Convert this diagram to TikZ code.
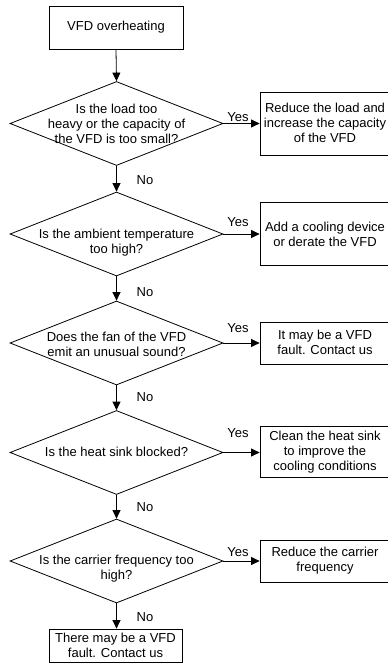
\documentclass[tikz,border=0pt]{standalone}
\usepackage{fontspec}
\setmainfont{Liberation Sans}
\usetikzlibrary{shapes.geometric,arrows.meta}
\begin{document}
\begin{tikzpicture}[x=1pt,y=-1pt,
  every node/.style={font=\fontsize{13}{15}\selectfont},
  box/.style={draw, line width=0.8pt, inner sep=0pt, align=center},
  dia/.style={draw, shape=diamond, line width=0.8pt, inner sep=0pt, minimum width=213, minimum height=84},
  txt/.style={inner sep=0pt, align=center},
  lbl/.style={inner sep=0pt},
  arr/.style={line width=0.8pt, -{Triangle[length=8.5pt,width=8pt]}}]
\useasboundingbox (0,0) rectangle (388,672);
% start
\node[box, minimum width=134, minimum height=43] (top) at (116,27.5) {VFD overheating};
% diamonds
\node[dia] (d1) at (116.5,123.5) {};
\node[dia] (d2) at (116.5,234) {};
\node[dia] (d3) at (116.5,343) {};
\node[dia] (d4) at (116.5,452.5) {};
\node[dia] (d5) at (116.5,561) {};
% question texts
\node[txt] (q1) at (116.5,123.5) {Is the load too\\heavy or the capacity of\\the VFD is too small?};
\node[txt] (q2) at (116.5,243) {Is the ambient temperature\\too high?};
\node[txt] (q3) at (116.5,344) {Does the fan of the VFD\\emit an unusual sound?};
\node[txt] (q4) at (116.5,452) {Is the heat sink blocked?};
\node[txt] (q5) at (116.5,569) {Is the carrier frequency too\\high?};
% action boxes (right edges run past the picture border, as in the reference)
\node[box, minimum width=134, minimum height=63] (b1) at (327,123.5) {};
\node[txt] (t1) at (325,123) {Reduce the load and\\increase the capacity\\of the VFD};
\node[box, minimum width=134, minimum height=63] (b2) at (327,233.5) {};
\node[txt] (t2) at (325,234.5) {Add a cooling device\\or derate the VFD};
\node[box, minimum width=134, minimum height=42] (b3) at (327,343) {};
\node[txt] (t3) at (325,342.5) {It may be a VFD\\fault. Contact us};
\node[box, minimum width=134, minimum height=51] (b4) at (327,451.5) {};
\node[txt] (t4) at (325,452) {Clean the heat sink\\to improve the\\cooling conditions};
\node[box, minimum width=134, minimum height=42] (b5) at (327,561) {};
\node[txt] (t5) at (325,560.5) {Reduce the carrier\\frequency};
% final
\node[box, minimum width=133, minimum height=33] (fin) at (115.5,645.5) {There may be a VFD\\fault. Contact us};
% vertical arrows
\draw[arr] (top.south) -- (d1.north);
\draw[arr] (d1.south) -- (d2.north);
\draw[arr] (d2.south) -- (d3.north);
\draw[arr] (d3.south) -- (d4.north);
\draw[arr] (d4.south) -- (d5.north);
\draw[arr] (d5.south) -- (d5.south |- fin.north);
% yes arrows
\draw[arr] (d1.east) -- (d1.east -| b1.west);
\draw[arr] (d2.east) -- (d2.east -| b2.west);
\draw[arr] (d3.east) -- (d3.east -| b3.west);
\draw[arr] (d4.east) -- (d4.east -| b4.west);
\draw[arr] (d5.east) -- (d5.east -| b5.west);
% labels
\node[lbl] (y1) at (238,117) {Yes};
\node[lbl] (y2) at (238,222) {Yes};
\node[lbl] (y3) at (238,328) {Yes};
\node[lbl] (y4) at (238,433) {Yes};
\node[lbl] (y5) at (238,552) {Yes};
\node[lbl] (n1) at (145,180) {No};
\node[lbl] (n2) at (145,292) {No};
\node[lbl] (n3) at (145,397) {No};
\node[lbl] (n4) at (145,507) {No};
\node[lbl] (n5) at (145,617) {No};
\end{tikzpicture}
\end{document}
